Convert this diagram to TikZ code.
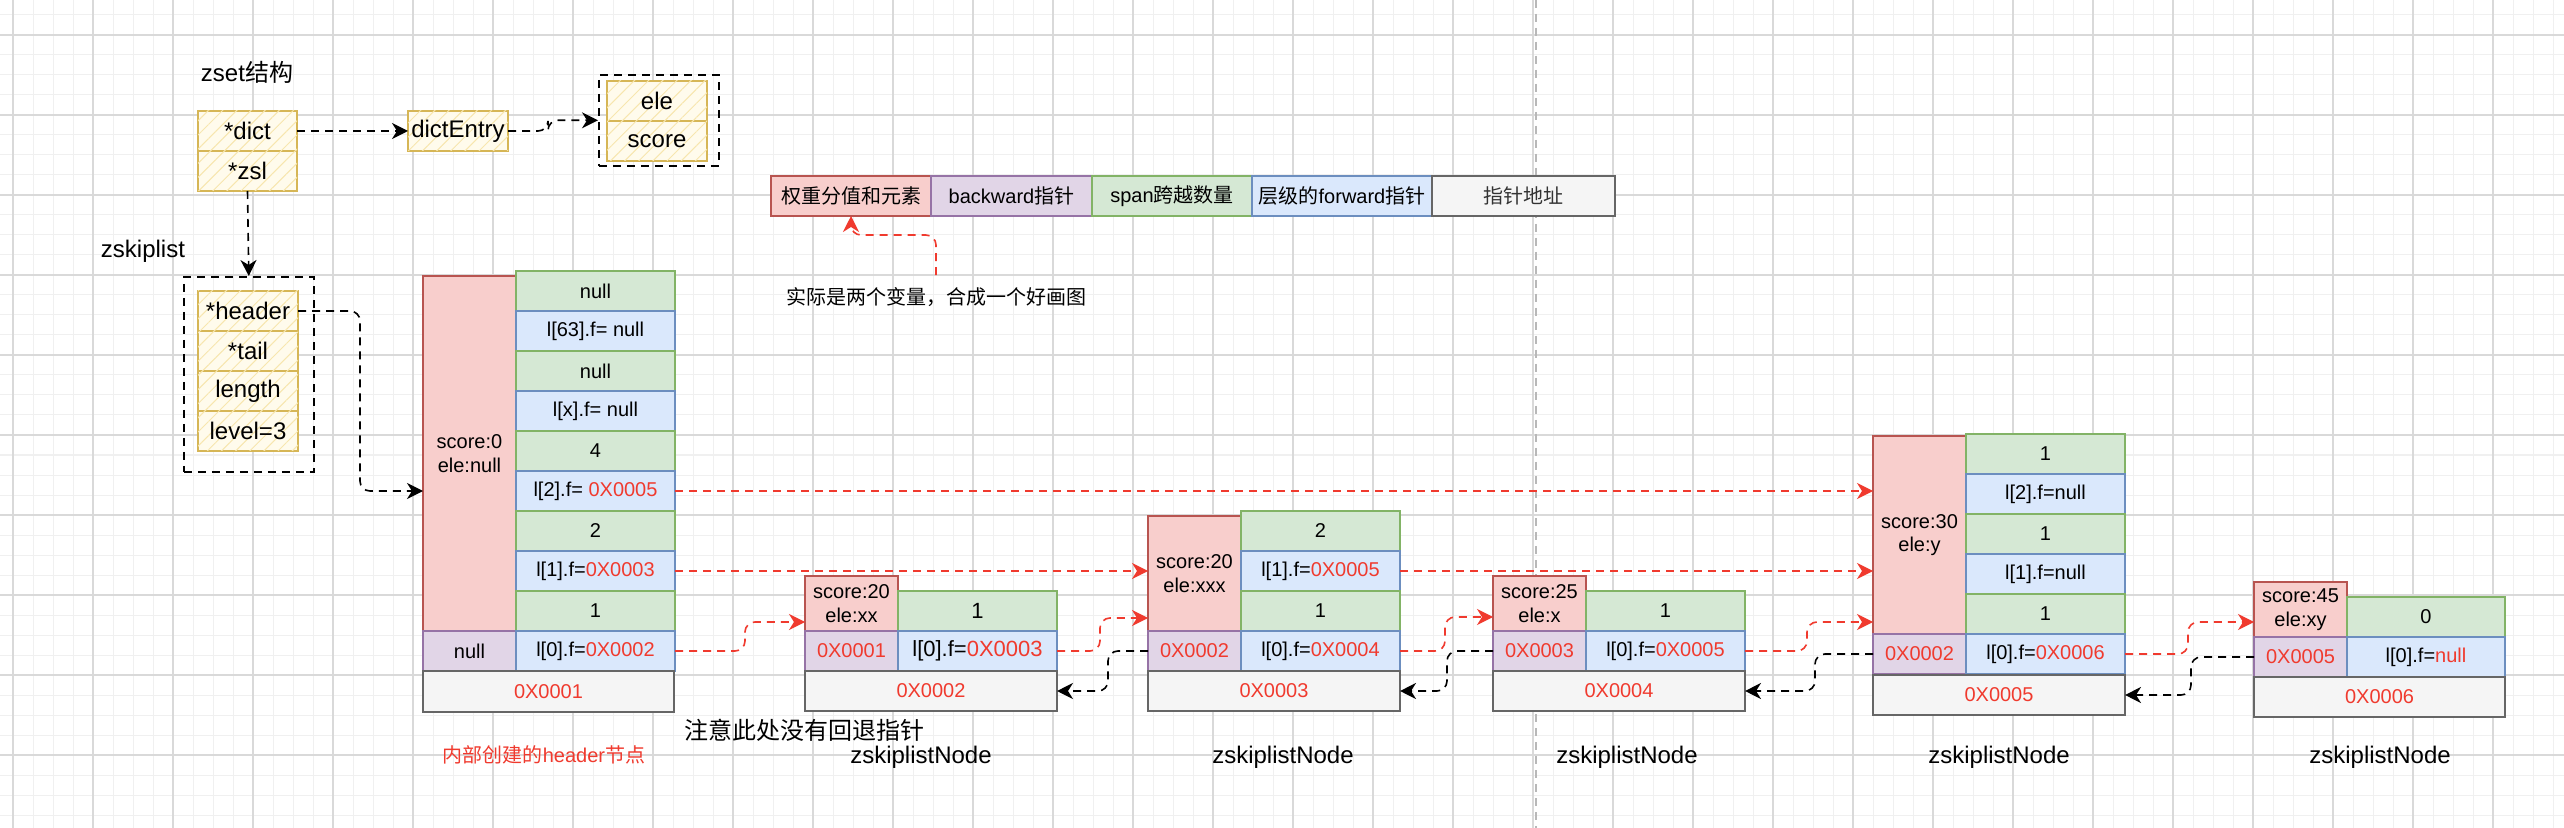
\documentclass[tikz,border=0pt]{standalone}
\usepackage{fontspec}
\setmainfont{Liberation Sans}
\newfontfamily\cjk{Noto Sans CJK SC}
\usepackage{tikz}
\usetikzlibrary{arrows.meta, positioning, calc, patterns.meta}

\definecolor{pkfill}{HTML}{F8CECC}\definecolor{pkline}{HTML}{B85450}
\definecolor{pufill}{HTML}{E1D5E7}\definecolor{puline}{HTML}{9673A6}
\definecolor{gnfill}{HTML}{D5E8D4}\definecolor{gnline}{HTML}{82B366}
\definecolor{bufill}{HTML}{DAE8FC}\definecolor{buline}{HTML}{6C8EBF}
\definecolor{adfill}{HTML}{F5F5F5}\definecolor{adline}{HTML}{666666}
\definecolor{adtext}{HTML}{333333}
\definecolor{ylline}{HTML}{D6B656}\definecolor{ylbg}{HTML}{FFFBEC}
\definecolor{ylhatch}{HTML}{F7E6AE}
\definecolor{ptred}{HTML}{F03A2E}
\definecolor{gminor}{HTML}{F0F0F0}\definecolor{gmajor}{HTML}{D9D9D9}

\newcommand{\zh}[1]{{\cjk #1}}
\newcommand{\hl}[1]{\textcolor{ptred}{#1}}

\begin{document}
\begin{tikzpicture}[
  x=0.5pt, y=-0.5pt,
  cell/.style={draw, anchor=north west, align=center, inner sep=0pt, outer sep=0pt,
               line width=0.8pt, font=\fontsize{10}{11.7}\selectfont},
  pk/.style={cell, fill=pkfill, draw=pkline, minimum width=46.5pt},
  pu/.style={cell, fill=pufill, draw=puline, minimum width=46.5pt, minimum height=20pt},
  gn/.style={cell, fill=gnfill, draw=gnline, minimum width=79.5pt, minimum height=20pt},
  bu/.style={cell, fill=bufill, draw=buline, minimum width=79.5pt, minimum height=20pt},
  adr/.style={cell, fill=adfill, draw=adline, text=ptred, minimum width=126pt, minimum height=20pt},
  leg/.style={cell, minimum height=20pt},
  ybox/.style={cell, draw=ylline, line width=1.1pt, fill=ylbg,
               postaction={pattern={Lines[angle=45,distance=5pt,line width=0.5pt]}, pattern color=ylhatch},
               minimum width=50pt, minimum height=20pt, font=\fontsize{12}{14}\selectfont},
  grp/.style={draw, anchor=north west, line width=0.8pt, dash pattern=on 4pt off 3pt, inner sep=0pt},
  lbl/.style={font=\fontsize{12}{14}\selectfont, inner sep=0pt},
  sml/.style={font=\fontsize{10}{12}\selectfont, inner sep=0pt},
  ptr/.style={-{Stealth[length=8pt,width=8pt,inset=2.5pt]}, line width=0.8pt,
              dash pattern=on 4pt off 3pt, rounded corners=5pt},
  fwd/.style={ptr, draw=ptred}
]
  \useasboundingbox (0,0) rectangle (2564,828);
  \fill[white] (0,0) rectangle (2564,828);
  \foreach \gx in {13,33,...,2553} \draw[gminor, line width=0.5pt] (\gx,0) -- (\gx,828);
  \foreach \gy in {15,35,...,815} \draw[gminor, line width=0.5pt] (0,\gy) -- (2564,\gy);
  \foreach \gx in {13,93,...,2493} \draw[gmajor, line width=0.6pt] (\gx,0) -- (\gx,828);
  \foreach \gy in {35,115,...,755} \draw[gmajor, line width=0.6pt] (0,\gy) -- (2564,\gy);
  \draw[black!28, line width=1pt, dash pattern=on 4pt off 3pt] (1536,0) -- (1536,828);

  % zset
  \node[lbl] (zsettl) at (247,72) {zset\zh{结构}};
  \node[ybox, minimum width=49.5pt] (dict) at (198,111) {*dict};
  \node[ybox, minimum width=49.5pt] (zsl)  at (198,151) {*zsl};
  \node[ybox] (dentry) at (408,111) {dictEntry};
  \node[grp, minimum width=60pt, minimum height=45.5pt] (eleset) at (598,74) {};
  \node[ybox] (ele)   at (607,81)  {ele};
  \node[ybox] (score) at (607,121) {score};

  \node[lbl] (zsktl) at (143,251) {zskiplist};
  \node[grp, minimum width=65pt, minimum height=97.5pt] (zsk) at (183,276) {};
  \node[ybox] (header) at (198,291) {*header};
  \node[ybox] (tail)   at (198,331) {*tail};
  \node[ybox] (length) at (198,371) {length};
  \node[ybox] (level)  at (198,411) {level=3};

  % legend
  \node[leg, fill=pkfill, draw=pkline, minimum width=80pt]   (lg1) at (771,176)  {\zh{权重分值和元素}};
  \node[leg, fill=pufill, draw=puline, minimum width=80.5pt] (lg2) at (931,176)  {backward\zh{指针}};
  \node[leg, fill=gnfill, draw=gnline, minimum width=80pt]   (lg3) at (1092,176) {span\zh{跨越数量}};
  \node[leg, fill=bufill, draw=buline, minimum width=90pt]   (lg4) at (1252,176) {\zh{层级的}forward\zh{指针}};
  \node[leg, fill=adfill, draw=adline, text=adtext, minimum width=91.5pt] (lg5) at (1432,176) {\zh{指针地址}};
  \node[sml, inner sep=6pt] (note) at (936,297) {\zh{实际是两个变量，合成一个好画图}};

  % header node
  \node[pk, minimum height=177.5pt] (hscore) at (423,276) {score:0\\ele:null};
  \node[pu] (hback) at (423,631) {null};
  \node[gn] (hs63) at (516,271) {null};
  \node[bu] (hf63) at (516,311) {l[63].f= null};
  \node[gn] (hsx)  at (516,351) {null};
  \node[bu] (hfx)  at (516,391) {l[x].f= null};
  \node[gn] (hs2)  at (516,431) {4};
  \node[bu] (hf2)  at (516,471) {l[2].f= \hl{0X0005}};
  \node[gn] (hs1)  at (516,511) {2};
  \node[bu] (hf1)  at (516,551) {l[1].f=\hl{0X0003}};
  \node[gn] (hs0)  at (516,591) {1};
  \node[bu] (hf0)  at (516,631) {l[0].f=\hl{0X0002}};
  \node[adr, minimum width=125.5pt, minimum height=20.5pt] (haddr) at (423,671) {0X0001};
  \node[sml, text=ptred] (hcap) at (544,755) {\zh{内部创建的}header\zh{节点}};

  % node 0X0002
  \node[pk, minimum height=27.5pt] (n2score) at (805,576) {score:20\\ele:xx};
  \node[gn, font=\fontsize{11}{13}\selectfont] (n2s0) at (898,591) {1};
  \node[pu, text=ptred] (n2back) at (805,631) {0X0001};
  \node[bu, font=\fontsize{11}{13}\selectfont] (n2f0) at (898,631) {l[0].f=\hl{0X0003}};
  \node[adr] (n2addr) at (805,671) {0X0002};
  \node[lbl] (n2cap) at (921,757) {zskiplistNode};
  \node[lbl] (nonote) at (804,730) {\zh{注意此处没有回退指针}};

  % node 0X0003
  \node[pk, minimum height=57.5pt] (n3score) at (1148,516) {score:20\\ele:xxx};
  \node[gn] (n3s1) at (1241,511) {2};
  \node[bu] (n3f1) at (1241,551) {l[1].f=\hl{0X0005}};
  \node[gn] (n3s0) at (1241,591) {1};
  \node[pu, text=ptred] (n3back) at (1148,631) {0X0002};
  \node[bu] (n3f0) at (1241,631) {l[0].f=\hl{0X0004}};
  \node[adr] (n3addr) at (1148,671) {0X0003};
  \node[lbl] (n3cap) at (1283,757) {zskiplistNode};

  % node 0X0004
  \node[pk, minimum height=27.5pt] (n4score) at (1493,576) {score:25\\ele:x};
  \node[gn] (n4s0) at (1586,591) {1};
  \node[pu, text=ptred] (n4back) at (1493,631) {0X0003};
  \node[bu] (n4f0) at (1586,631) {l[0].f=\hl{0X0005}};
  \node[adr] (n4addr) at (1493,671) {0X0004};
  \node[lbl] (n4cap) at (1627,757) {zskiplistNode};

  % node 0X0005
  \node[pk, minimum height=99pt] (n5score) at (1873,436) {score:30\\ele:y};
  \node[gn] (n5s2) at (1966,434) {1};
  \node[bu] (n5f2) at (1966,474) {l[2].f=null};
  \node[gn] (n5s1) at (1966,514) {1};
  \node[bu] (n5f1) at (1966,554) {l[1].f=null};
  \node[gn] (n5s0) at (1966,594) {1};
  \node[pu, text=ptred] (n5back) at (1873,634) {0X0002};
  \node[bu] (n5f0) at (1966,634) {l[0].f=\hl{0X0006}};
  \node[adr] (n5addr) at (1873,675) {0X0005};
  \node[lbl] (n5cap) at (1999,757) {zskiplistNode};

  % node 0X0006
  \node[pk, minimum height=27.5pt] (n6score) at (2254,582) {score:45\\ele:xy};
  \node[gn, minimum width=79pt] (n6s0) at (2347,597) {0};
  \node[pu, text=ptred] (n6back) at (2254,637) {0X0005};
  \node[bu, minimum width=79pt] (n6f0) at (2347,637) {l[0].f=\hl{null}};
  \node[adr, minimum width=125.5pt] (n6addr) at (2254,677) {0X0006};
  \node[lbl] (n6cap) at (2380,757) {zskiplistNode};

  \coordinate (n2in) at ($(n2score.south west)+(0,-9)$);
  \coordinate (n3in) at ($(n3score.south west)+(0,-13)$);
  \coordinate (n4in) at ($(n4score.south west)+(0,-14)$);
  \coordinate (n5in) at ($(n5score.south west)+(0,-12)$);
  \coordinate (n6in) at ($(n6score.south west)+(0,-15)$);

  \draw[ptr] (dict.east) -- (dentry.west);
  \draw[ptr] (dentry.east) -- ++(40,0) |- (eleset.west);
  \draw[ptr] (zsl.south) -- (zsk.north);
  \draw[ptr] (header.east) -- ++(62,0) |- (hscore.west |- hf2);
  \draw[fwd] (note.north) -- ++(0,-40) -| (lg1.south);

  \draw[fwd] (hf2.east) -- (n5score.west |- hf2.east);
  \draw[fwd] (hf1.east) -- (n3score.west |- hf1.east);
  \draw[fwd] (n3f1.east) -- (n5score.west |- n3f1.east);
  \draw[fwd] (hf0.east) -- ++(70,0) |- (n2in);
  \draw[fwd] (n2f0.east) -- ++(43,0) |- (n3in);
  \draw[fwd] (n3f0.east) -- ++(45,0) |- (n4in);
  \draw[fwd] (n4f0.east) -- ++(62,0) |- (n5in);
  \draw[fwd] (n5f0.east) -- ++(63,0) |- (n6in);

  \draw[ptr] (n3back.west) -- ++(-40,0) |- (n2addr.east);
  \draw[ptr] (n4back.west) -- ++(-46,0) |- (n3addr.east);
  \draw[ptr] (n5back.west) -- ++(-58,0) |- (n4addr.east);
  \draw[ptr] (n6back.west) -- ++(-63,0) |- (n5addr.east);
\end{tikzpicture}
\end{document}
